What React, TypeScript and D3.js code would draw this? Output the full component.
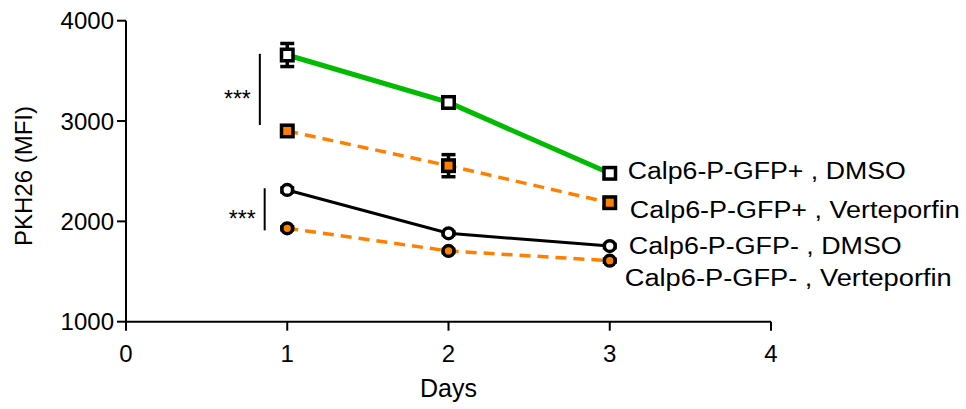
import React from "react";
import * as d3 from "d3";

const days = [1, 2, 3];
const gfpPosDmso = [3658, 3185, 2479];
const gfpPosDmsoErr = [115, 25, 45];
const gfpPosVert = [2901, 2555, 2186];
const gfpPosVertErr = [30, 110, 45];
const gfpNegDmso = [2313, 1881, 1754];
const gfpNegDmsoErr = [20, 15, 15];
const gfpNegVert = [1931, 1705, 1608];
const gfpNegVertErr = [15, 15, 15];
const seriesNames = [
  "Calp6-P-GFP+ , DMSO",
  "Calp6-P-GFP+ , Verteporfin",
  "Calp6-P-GFP- , DMSO",
  "Calp6-P-GFP- , Verteporfin",
];
const xTicks = [0, 1, 2, 3, 4];
const yTicks = [1000, 2000, 3000, 4000];

const W = 966;
const H = 409;
const FONT = "'Liberation Sans', Arial, sans-serif";

export default function App() {
  const x = d3.scaleLinear().domain([0, 4]).range([126, 771]);
  const y = d3.scaleLinear().domain([1000, 4000]).range([321.7, 20.7]);

  const series = [
    { v: gfpPosDmso, e: gfpPosDmsoErr, color: "#00bb00", width: 5, dash: "", shape: "square", fill: "#ffffff" },
    { v: gfpPosVert, e: gfpPosVertErr, color: "#ff8000", width: 3.5, dash: "11,7", shape: "square", fill: "#ff8000" },
    { v: gfpNegDmso, e: gfpNegDmsoErr, color: "#000000", width: 3, dash: "", shape: "circle", fill: "#ffffff" },
    { v: gfpNegVert, e: gfpNegVertErr, color: "#ff8000", width: 3.5, dash: "11,7", shape: "circle", fill: "#ff8000" },
  ];

  const labelLayout = [
    { dx: 18, baseline: 179, len: 278 },
    { dx: 20, baseline: 218, len: 330 },
    { dx: 19, baseline: 254, len: 273 },
    { dx: 15, baseline: 286, len: 327 },
  ];

  const brackets = [
    { xv: 0.83, top: 3670, bottom: 2960 },
    { xv: 0.86, top: 2330, bottom: 1910 },
  ];

  const line = d3
    .line<number>()
    .x((_, i) => x(days[i]))
    .y((d) => y(d));

  return (
    <div style={{ position: "fixed", left: 0, top: 0 }}>
      <svg width={W} height={H} style={{ display: "block", background: "#fff" }}>
        {/* axes */}
        <line x1={x(0)} x2={x(0)} y1={y(4000)} y2={y(1000)} stroke="#000" strokeWidth={2} />
        <line x1={x(0)} x2={x(4)} y1={y(1000)} y2={y(1000)} stroke="#000" strokeWidth={2} />
        {yTicks.map((t) => (
          <g key={"yt" + t}>
            <line x1={x(0) - 9} x2={x(0)} y1={y(t)} y2={y(t)} stroke="#000" strokeWidth={2} />
            <text x={x(0) - 12} y={y(t) + 8.5} textAnchor="end" fontFamily={FONT} fontSize={24} fill="#000">
              {t}
            </text>
          </g>
        ))}
        {xTicks.map((t) => (
          <g key={"xt" + t}>
            <line x1={x(t)} x2={x(t)} y1={y(1000)} y2={y(1000) + 9} stroke="#000" strokeWidth={2} />
            <text x={x(t)} y={362} textAnchor="middle" fontFamily={FONT} fontSize={24} fill="#000">
              {t}
            </text>
          </g>
        ))}
        <text x={x(2)} y={397} textAnchor="middle" fontFamily={FONT} fontSize={25} fill="#000">
          Days
        </text>
        <text
          transform={`translate(32,${176}) rotate(-90)`}
          textAnchor="middle"
          fontFamily={FONT}
          fontSize={24}
          fill="#000"
        >
          PKH26 (MFI)
        </text>

        {/* lines */}
        {series.map((s, i) => (
          <path
            key={"l" + i}
            d={line(s.v) || ""}
            fill="none"
            stroke={s.color}
            strokeWidth={s.width}
            strokeDasharray={s.dash || undefined}
          />
        ))}

        {/* error bars */}
        {series.map((s, i) =>
          s.v.map((v, j) => (
            <g key={"e" + i + "-" + j} stroke="#000" strokeWidth={3.5}>
              <line x1={x(days[j])} x2={x(days[j])} y1={y(v + s.e[j])} y2={y(v - s.e[j])} />
              <line x1={x(days[j]) - 7} x2={x(days[j]) + 7} y1={y(v + s.e[j])} y2={y(v + s.e[j])} />
              <line x1={x(days[j]) - 7} x2={x(days[j]) + 7} y1={y(v - s.e[j])} y2={y(v - s.e[j])} />
            </g>
          ))
        )}

        {/* markers */}
        {series.map((s, i) =>
          s.v.map((v, j) =>
            s.shape === "square" ? (
              <rect
                key={"m" + i + "-" + j}
                x={x(days[j]) - 5.75}
                y={y(v) - 5.75}
                width={11.5}
                height={11.5}
                fill={s.fill}
                stroke="#000"
                strokeWidth={3.5}
              />
            ) : (
              <circle
                key={"m" + i + "-" + j}
                cx={x(days[j])}
                cy={y(v)}
                r={5.4}
                fill={s.fill}
                stroke="#000"
                strokeWidth={3.5}
              />
            )
          )
        )}

        {/* series labels */}
        {series.map((s, i) => (
          <text
            key={"lab" + i}
            x={x(days[2]) + labelLayout[i].dx}
            y={labelLayout[i].baseline}
            fontFamily={FONT}
            fontSize={23.5}
            textLength={labelLayout[i].len}
            lengthAdjust="spacingAndGlyphs"
            fill="#000"
          >
            {seriesNames[i]}
          </text>
        ))}

        {/* significance brackets */}
        {brackets.map((b, i) => (
          <g key={"b" + i}>
            <line x1={x(b.xv)} x2={x(b.xv)} y1={y(b.top)} y2={y(b.bottom)} stroke="#000" strokeWidth={2} />
            <text
              x={x(b.xv) - 9}
              y={(y(b.top) + y(b.bottom)) / 2 + 18}
              textAnchor="end"
              fontFamily={FONT}
              fontSize={23}
              fill="#000"
            >
              ***
            </text>
          </g>
        ))}
      </svg>
    </div>
  );
}
